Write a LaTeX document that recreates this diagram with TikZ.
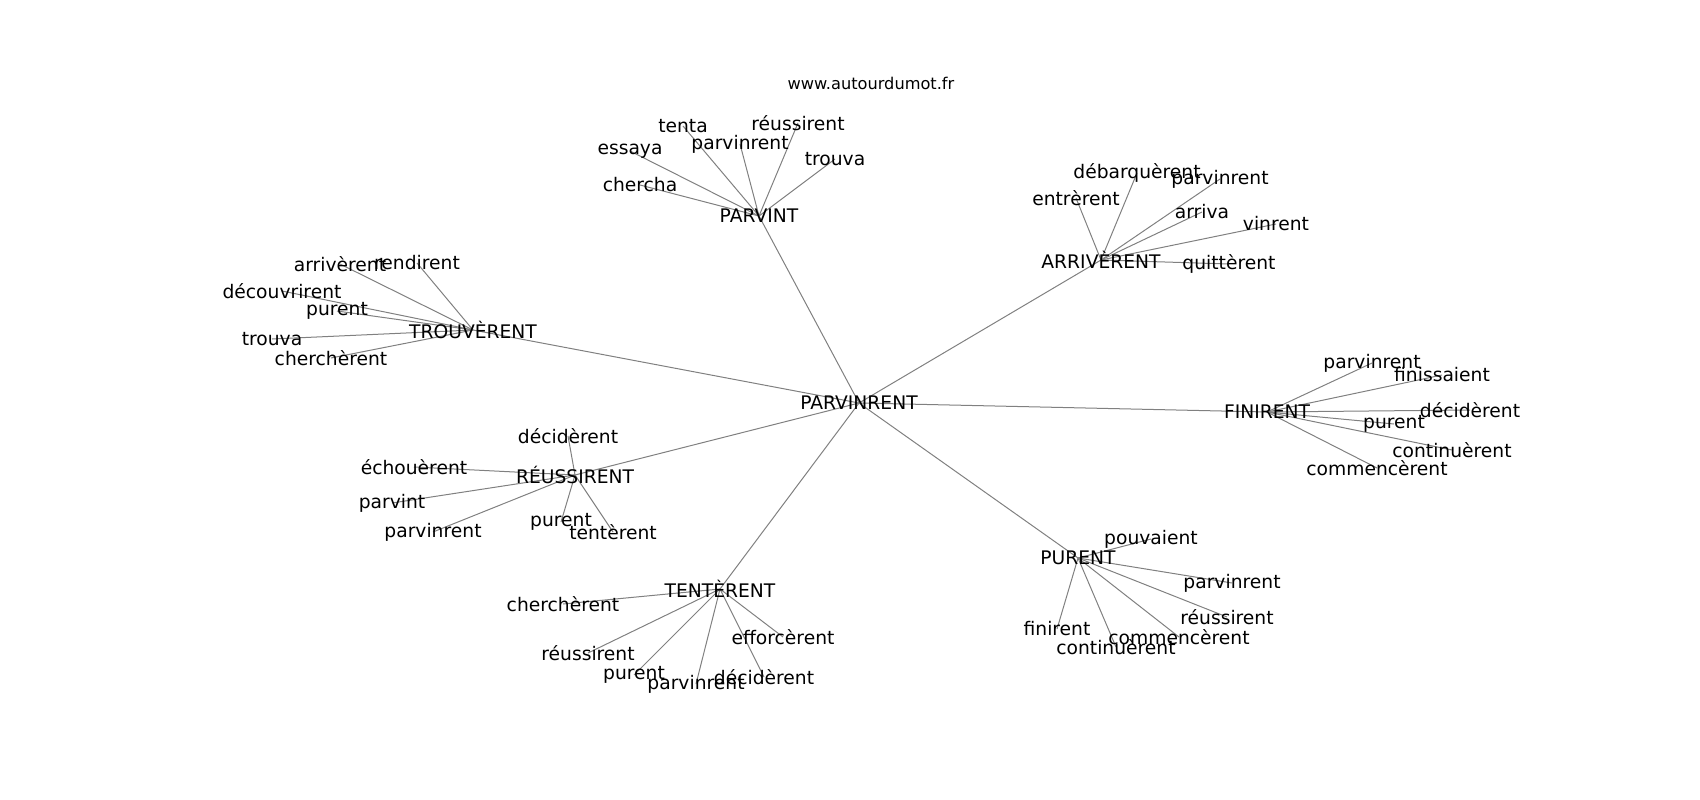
\documentclass[tikz,border=0pt]{standalone}
\usepackage{fontspec}
\setmainfont{DejaVu Sans}
\usepackage{tikz}
\usetikzlibrary{backgrounds}

\begin{document}
\begin{tikzpicture}[x=1pt, y=-1pt,
	word/.style={inner sep=0pt, font=\fontsize{18.7}{20}\selectfont},
	edge/.style={draw=gray, line width=1pt}]
	\useasboundingbox (0,0) rectangle (1700,800);
	% Title
	\node[inner sep=0pt, font=\fontsize{16.2}{18}\selectfont] at (871,83) (site) {www.autourdumot.fr};
	% Centre and hubs
	\node[word] at (859,403) (parvinrent) {PARVINRENT};
	\node[word] at (759,216) (parvint) {PARVINT};
	\node[word] at (1101,260) (arriverent) {ARRIVÈRENT};
	\node[word] at (473,330) (trouverent) {TROUVÈRENT};
	\node[word] at (1267,412) (finirent) {FINIRENT};
	\node[word] at (575,475) (reussirent) {RÉUSSIRENT};
	\node[word] at (720,589) (tenterent) {TENTÈRENT};
	\node[word] at (1078,558) (purent) {PURENT};
	% PARVINT
	\node[word] at (640,185) (ptchercha) {chercha};
	\node[word] at (630,151) (ptessaya) {essaya};
	\node[word] at (683,126) (pttenta) {tenta};
	\node[word] at (740,144) (ptparvinrent) {parvinrent};
	\node[word] at (798,123) (ptreussirent) {réussirent};
	\node[word] at (835,159) (pttrouva) {trouva};
	% ARRIVÈRENT
	\node[word] at (1076,198) (arentrerent) {entrèrent};
	\node[word] at (1137,173) (ardebarquerent) {débarquèrent};
	\node[word] at (1220,179) (arparvinrent) {parvinrent};
	\node[word] at (1202,212) (ararriva) {arriva};
	\node[word] at (1276,224) (arvinrent) {vinrent};
	\node[word] at (1229,264) (arquitterent) {quittèrent};
	% TROUVÈRENT
	\node[word] at (340,264) (trarriverent) {arrivèrent};
	\node[word] at (417,263) (trrendirent) {rendirent};
	\node[word] at (282,291) (trdecouvrirent) {découvrirent};
	\node[word] at (337,311) (trpurent) {purent};
	\node[word] at (272,339) (trtrouva) {trouva};
	\node[word] at (331,358) (trchercherent) {cherchèrent};
	% FINIRENT
	\node[word] at (1372,363) (fiparvinrent) {parvinrent};
	\node[word] at (1442,375) (fifinissaient) {finissaient};
	\node[word] at (1470,410) (fideciderent) {décidèrent};
	\node[word] at (1394,424) (fipurent) {purent};
	\node[word] at (1452,450) (ficontinuerent) {continuèrent};
	\node[word] at (1377,468) (ficommencerent) {commencèrent};
	% RÉUSSIRENT
	\node[word] at (568,436) (rederiderent) {décidèrent};
	\node[word] at (414,467) (rechouerent) {échouèrent};
	\node[word] at (392,503) (reparvint) {parvint};
	\node[word] at (433,532) (reparvinrent) {parvinrent};
	\node[word] at (561,522) (repurent) {purent};
	\node[word] at (613,532) (retenterent) {tentèrent};
	% TENTÈRENT
	\node[word] at (563,604) (techercherent) {cherchèrent};
	\node[word] at (783,637) (teefforcerent) {efforcèrent};
	\node[word] at (588,653) (tereussirent) {réussirent};
	\node[word] at (634,675) (tepurent) {purent};
	\node[word] at (696,684) (teparvinrent) {parvinrent};
	\node[word] at (764,677) (tedeciderent) {décidèrent};
	% PURENT
	\node[word] at (1151,539) (pupouvaient) {pouvaient};
	\node[word] at (1232,583) (puparvinrent) {parvinrent};
	\node[word] at (1227,617) (pureussirent) {réussirent};
	\node[word] at (1057,629) (pufinirent) {finirent};
	\node[word] at (1179,637) (pucommencerent) {commencèrent};
	\node[word] at (1116,647) (pucontinuerent) {continuèrent};
	% Edges
	\begin{scope}[on background layer]
		\foreach \h in {parvint,arriverent,trouverent,finirent,reussirent,tenterent,purent}
			\draw[edge] (parvinrent.center) -- (\h.center);
		\foreach \w in {ptchercha,ptessaya,pttenta,ptparvinrent,ptreussirent,pttrouva}
			\draw[edge] (parvint.center) -- (\w.center);
		\foreach \w in {arentrerent,ardebarquerent,arparvinrent,ararriva,arvinrent,arquitterent}
			\draw[edge] (arriverent.center) -- (\w.center);
		\foreach \w in {trarriverent,trrendirent,trdecouvrirent,trpurent,trtrouva,trchercherent}
			\draw[edge] (trouverent.center) -- (\w.center);
		\foreach \w in {fiparvinrent,fifinissaient,fideciderent,fipurent,ficontinuerent,ficommencerent}
			\draw[edge] (finirent.center) -- (\w.center);
		\foreach \w in {rederiderent,rechouerent,reparvint,reparvinrent,repurent,retenterent}
			\draw[edge] (reussirent.center) -- (\w.center);
		\foreach \w in {techercherent,teefforcerent,tereussirent,tepurent,teparvinrent,tedeciderent}
			\draw[edge] (tenterent.center) -- (\w.center);
		\foreach \w in {pupouvaient,puparvinrent,pureussirent,pufinirent,pucommencerent,pucontinuerent}
			\draw[edge] (purent.center) -- (\w.center);
	\end{scope}
\end{tikzpicture}
\end{document}
